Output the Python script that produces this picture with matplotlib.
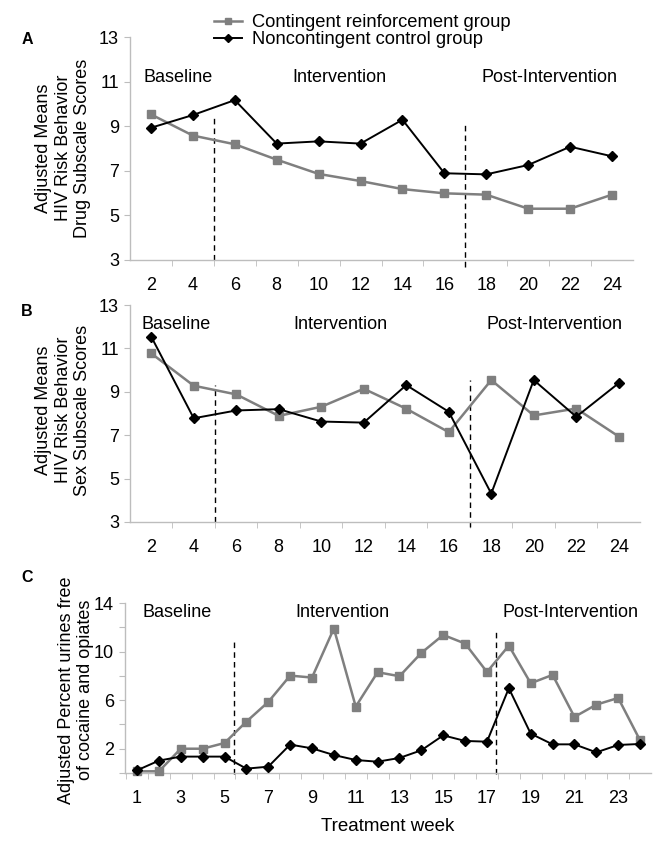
import matplotlib
matplotlib.use("Agg")
import matplotlib.pyplot as plt
from matplotlib.lines import Line2D

plt.rcParams['font.family'] = ['Liberation Sans', 'DejaVu Sans']

# data
weeks_ab = [2, 4, 6, 8, 10, 12, 14, 16, 18, 20, 22, 24]
drug_contingent = [9.53, 8.58, 8.19, 7.50, 6.86, 6.54, 6.18, 5.99, 5.93, 5.30, 5.30, 5.93]
drug_noncontingent = [8.93, 9.50, 10.17, 8.22, 8.32, 8.22, 9.29, 6.89, 6.84, 7.26, 8.08, 7.65]
sex_contingent = [10.77, 9.28, 8.88, 7.89, 8.31, 9.14, 8.22, 7.14, 9.54, 7.91, 8.23, 6.94]
sex_noncontingent = [11.54, 7.78, 8.14, 8.20, 7.63, 7.58, 9.31, 8.08, 4.31, 9.54, 7.85, 9.40]

weeks_c = list(range(1, 25))
urine_contingent = [0.14, 0.14, 2.0, 2.0, 2.47, 4.23, 5.85, 8.02, 7.86, 11.9, 5.47, 8.30,
                    7.97, 9.89, 11.37, 10.66, 8.32, 10.49, 7.39, 8.08, 4.62, 5.63, 6.18, 2.69]
urine_noncontingent = [0.22, 1.02, 1.35, 1.35, 1.35, 0.36, 0.52, 2.34, 2.03, 1.48, 1.07, 0.93,
                       1.24, 1.87, 3.10, 2.64, 2.58, 6.98, 3.24, 2.36, 2.36, 1.70, 2.31, 2.39]

labels = ['Contingent reinforcement group', 'Noncontingent control group']
phases = ['Baseline', 'Intervention', 'Post-Intervention']

GRAY = '#7f7f7f'
SPINE = '#bdbdbd'
FS = 13

fig = plt.figure(figsize=(6.71, 8.44), dpi=100)
W, H = 671., 844.

def make_ax(left, right, top, bottom):
    return fig.add_axes([left / W, 1 - bottom / H, (right - left) / W, (bottom - top) / H])

def style(ax):
    for s in ['top', 'right']:
        ax.spines[s].set_visible(False)
    for s in ['left', 'bottom']:
        ax.spines[s].set_color(SPINE)
        ax.spines[s].set_linewidth(1)
    ax.tick_params(axis='y', which='both', length=4, color=SPINE, labelsize=FS, pad=4)
    ax.tick_params(axis='x', which='major', length=0, labelsize=FS, pad=12)
    ax.tick_params(axis='x', which='minor', length=4, color=SPINE)

def draw(ax, x, a, b):
    ax.plot(x, a, color=GRAY, lw=1.8, marker='s', ms=6, mec=GRAY, mfc=GRAY, clip_on=False, zorder=3)
    ax.plot(x, b, color='black', lw=1.4, marker='D', ms=5, clip_on=False, zorder=4)

# Panel A
axA = make_ax(130, 633, 37, 260)
style(axA)
draw(axA, weeks_ab, drug_contingent, drug_noncontingent)
axA.set_xlim(1, 25)
axA.set_ylim(3, 13)
axA.set_yticks([3, 5, 7, 9, 11, 13])
axA.set_xticks(weeks_ab)
axA.set_xticks(range(3, 25, 2), minor=True)
axA.plot([5, 5], [3, 9.5], color='black', lw=1, ls=(0, (4, 3)), clip_on=False)
axA.plot([17, 17], [2.7, 9.2], color='black', lw=1, ls=(0, (4, 3)), clip_on=False)
for t, xx in zip(phases, [3.3, 11.0, 21.0]):
    axA.text(xx, 11.2, t, ha='center', va='center', fontsize=FS)

# Panel B
axB = make_ax(130, 640, 305, 522)
style(axB)
draw(axB, weeks_ab, sex_contingent, sex_noncontingent)
axB.set_xlim(1, 25)
axB.set_ylim(3, 13)
axB.set_yticks([3, 5, 7, 9, 11, 13])
axB.set_xticks(weeks_ab)
axB.set_xticks(range(3, 25, 2), minor=True)
axB.plot([5, 5], [3, 9.3], color='black', lw=1, ls=(0, (4, 3)), clip_on=False)
axB.plot([17, 17], [2.75, 9.55], color='black', lw=1, ls=(0, (4, 3)), clip_on=False)
for t, xx in zip(phases, [3.15, 10.9, 21.0]):
    axB.text(xx, 12.1, t, ha='center', va='center', fontsize=FS)

# Panel C
axC = make_ax(125, 651, 603, 773)
style(axC)
draw(axC, weeks_c, urine_contingent, urine_noncontingent)
axC.set_xlim(0.45, 24.5)
axC.set_ylim(0, 14)
axC.set_yticks(range(0, 15, 2))
axC.set_yticklabels(['' if v % 4 == 0 else str(v) for v in range(0, 15, 2)])
axC.set_xticks(range(1, 24, 2))
axC.set_xticks([w + 0.5 for w in range(0, 24)], minor=True)
axC.plot([5.42, 5.42], [-0.1, 10.9], color='black', lw=1, ls=(0, (4, 3)), clip_on=False)
axC.plot([17.42, 17.42], [-0.1, 11.8], color='black', lw=1, ls=(0, (4, 3)), clip_on=False)
for t, xx in zip(phases, [2.85, 10.4, 20.8]):
    axC.text(xx, 13.2, t, ha='center', va='center', fontsize=FS)
axC.set_xlabel('Treatment week', fontsize=13.5, labelpad=8)

# y labels
fig.text(63 / W, 1 - 148 / H, 'Adjusted Means\nHIV Risk Behavior\nDrug Subscale Scores',
         rotation=90, ha='center', va='center', multialignment='center', fontsize=FS, linespacing=1.2)
fig.text(63 / W, 1 - 410 / H, 'Adjusted Means\nHIV Risk Behavior\nSex Subscale Scores',
         rotation=90, ha='center', va='center', multialignment='center', fontsize=FS, linespacing=1.2)
fig.text(76 / W, 1 - 690 / H, 'Adjusted Percent urines free\nof cocaine and opiates',
         rotation=90, ha='center', va='center', multialignment='center', fontsize=FS, linespacing=1.2)

# panel letters
for letter, yy in zip(['A', 'B', 'C'], [40, 312, 578]):
    fig.text(27 / W, 1 - yy / H, letter, fontsize=11.5, fontweight='bold', ha='center', va='center')

# legend
handles = [Line2D([], [], color=GRAY, lw=1.8, marker='s', ms=5, mfc=GRAY, mec=GRAY),
           Line2D([], [], color='black', lw=1.4, marker='D', ms=4.5)]
fig.legend(handles, labels, loc='upper left', bbox_to_anchor=(214 / W, 1 - 14 / H), frameon=False,
           fontsize=13.2, handlelength=1.5, handletextpad=0.6, labelspacing=0.0, borderpad=0,
           borderaxespad=0)

fig.savefig('out.png', dpi=100)
